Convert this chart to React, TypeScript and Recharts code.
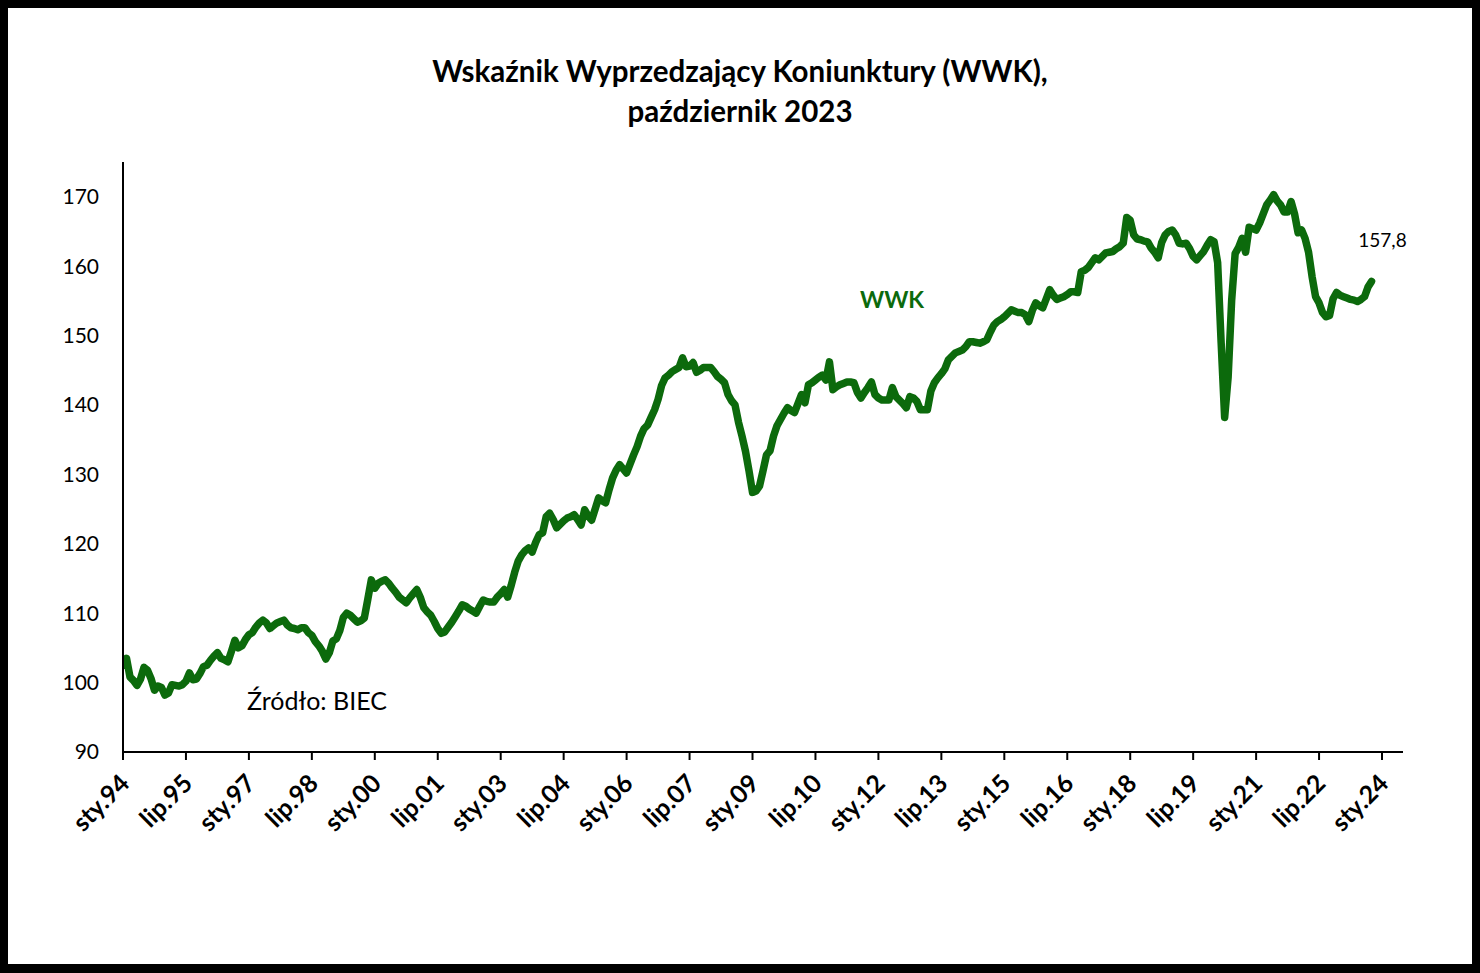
import React from 'react';
import { LineChart, Line, XAxis, YAxis } from 'recharts';

const y1994 = [102.5, 103.5, 100.8, 100.3, 99.6, 100.5, 102.2, 101.8, 100.6, 98.9, 99.5, 99.3];
const y1995 = [98.2, 98.5, 99.7, 99.6, 99.5, 99.7, 100.2, 101.4, 100.4, 100.5, 101.3, 102.3];
const y1996 = [102.5, 103.2, 103.8, 104.3, 103.5, 103.3, 103.0, 104.5, 106.1, 105.0, 105.3, 106.2];
const y1997 = [106.9, 107.2, 108.0, 108.6, 109.0, 108.6, 107.8, 108.2, 108.6, 108.8, 109.0, 108.3];
const y1998 = [107.9, 107.8, 107.6, 107.9, 107.9, 107.2, 106.8, 105.9, 105.3, 104.5, 103.4, 104.3];
const y1999 = [106.0, 106.3, 107.5, 109.4, 110.0, 109.7, 109.2, 108.7, 108.9, 109.3, 112.0, 114.8];
const y2000 = [113.6, 114.3, 114.6, 114.8, 114.3, 113.6, 113.0, 112.3, 111.9, 111.5, 112.2, 112.8];
const y2001 = [113.4, 112.3, 110.8, 110.2, 109.7, 108.8, 107.8, 107.1, 107.3, 108.0, 108.7, 109.5];
const y2002 = [110.3, 111.2, 111.0, 110.6, 110.3, 110.0, 111.0, 111.9, 111.7, 111.6, 111.6, 112.3];
const y2003 = [112.8, 113.4, 112.3, 114.0, 115.9, 117.5, 118.4, 119.0, 119.4, 118.8, 120.2, 121.3];
const y2004 = [121.6, 123.9, 124.4, 123.5, 122.3, 122.8, 123.3, 123.7, 123.9, 124.2, 123.5, 122.7];
const y2005 = [124.9, 124.0, 123.4, 125.0, 126.6, 126.2, 125.9, 127.8, 129.5, 130.6, 131.4, 130.8];
const y2006 = [130.2, 131.5, 132.8, 134.0, 135.5, 136.6, 137.1, 138.2, 139.3, 140.8, 142.8, 143.9];
const y2007 = [144.3, 144.8, 145.1, 145.4, 146.8, 145.5, 145.6, 146.1, 144.7, 145.0, 145.4, 145.4];
const y2008 = [145.4, 144.8, 144.1, 143.7, 143.2, 141.5, 140.6, 140.0, 137.5, 135.5, 133.3, 130.5];
const y2009 = [127.4, 127.6, 128.3, 130.5, 132.8, 133.4, 135.5, 137.0, 137.9, 138.8, 139.6, 139.2];
const y2010 = [138.9, 140.2, 141.5, 140.3, 142.9, 143.2, 143.6, 144.0, 144.3, 143.6, 146.2, 142.2];
const y2011 = [142.6, 142.9, 143.1, 143.3, 143.3, 143.2, 141.8, 141.0, 141.8, 142.5, 143.3, 141.5];
const y2012 = [141.0, 140.7, 140.7, 140.7, 142.5, 141.2, 140.7, 140.2, 139.6, 141.2, 141.0, 140.5];
const y2013 = [139.3, 139.3, 139.3, 142.0, 143.2, 143.9, 144.5, 145.2, 146.5, 147.0, 147.5, 147.7];
const y2014 = [147.9, 148.4, 149.1, 149.1, 149.0, 148.9, 149.1, 149.4, 150.5, 151.5, 152.0, 152.3];
const y2015 = [152.7, 153.2, 153.7, 153.5, 153.3, 153.3, 153.0, 152.0, 153.6, 154.7, 154.3, 154.0];
const y2016 = [155.3, 156.6, 155.8, 155.2, 155.4, 155.6, 155.9, 156.3, 156.3, 156.2, 159.2, 159.4];
const y2017 = [159.8, 160.5, 161.2, 160.9, 161.4, 161.9, 162.0, 162.1, 162.5, 162.8, 163.3, 167.0];
const y2018 = [166.6, 164.5, 163.9, 163.8, 163.6, 163.5, 162.6, 162.0, 161.2, 163.4, 164.5, 165.0];
const y2019 = [165.2, 164.5, 163.3, 163.2, 163.3, 162.5, 161.4, 160.9, 161.5, 162.1, 163.0, 163.8];
const y2020 = [163.5, 160.5, 149.0, 138.2, 144.0, 155.0, 161.8, 162.7, 164.0, 162.0, 165.6, 165.4];
const y2021 = [165.2, 166.2, 167.5, 168.8, 169.5, 170.3, 169.4, 168.8, 167.8, 167.8, 169.3, 167.5];
const y2022 = [164.8, 165.2, 164.0, 162.0, 158.5, 155.6, 154.7, 153.3, 152.7, 152.9, 155.3, 156.2];
const y2023 = [155.8, 155.6, 155.4, 155.2, 155.1, 154.9, 155.2, 155.6, 157.0, 157.8];

const wwkValues = [
  ...y1994, ...y1995, ...y1996, ...y1997, ...y1998, ...y1999, ...y2000, ...y2001,
  ...y2002, ...y2003, ...y2004, ...y2005, ...y2006, ...y2007, ...y2008, ...y2009,
  ...y2010, ...y2011, ...y2012, ...y2013, ...y2014, ...y2015, ...y2016, ...y2017,
  ...y2018, ...y2019, ...y2020, ...y2021, ...y2022, ...y2023,
];

const xTickMonths = [0, 18, 36, 54, 72, 90, 108, 126, 144, 162, 180, 198, 216, 234, 252, 270, 288, 306, 324, 342, 360];
const xTickLabels = [
  'sty.94', 'lip.95', 'sty.97', 'lip.98', 'sty.00', 'lip.01', 'sty.03', 'lip.04', 'sty.06', 'lip.07',
  'sty.09', 'lip.10', 'sty.12', 'lip.13', 'sty.15', 'lip.16', 'sty.18', 'lip.19', 'sty.21', 'lip.22', 'sty.24',
];
const yTicks = [90, 100, 110, 120, 130, 140, 150, 160, 170];

const data = wwkValues.map((v, i) => ({ m: i, wwk: v }));

const FONT = 'Lato, "Open Sans", sans-serif';
const GREEN = '#0c6a0c';

const XTick = (props: any) => {
  const { x, y, payload } = props;
  const idx = xTickMonths.indexOf(payload.value);
  const label = idx >= 0 ? xTickLabels[idx] : '';
  const px = x + 8;
  const py = y + 23;
  return (
    <text
      x={px}
      y={py}
      transform={`rotate(-45, ${px}, ${py})`}
      textAnchor="end"
      fontFamily={FONT}
      fontWeight="bold"
      fontSize={25}
      fill="#000"
    >
      {label}
    </text>
  );
};

const lastLabel = (props: any) => {
  const { x, y, index, value } = props;
  if (index !== wwkValues.length - 1) return null;
  return (
    <text x={x + 11} y={y - 34} textAnchor="middle" fontFamily={FONT} fontSize={19} fill="#000">
      {Number(value).toFixed(1).replace('.', ',')}
    </text>
  );
};

export default function App() {
  return (
    <div style={{ position: 'absolute', left: 0, top: 0, width: 1480, height: 973, background: '#000' }}>
      <div style={{ position: 'absolute', left: 8, top: 8, width: 1464, height: 956, background: '#fff' }} />
      <div style={{ position: 'absolute', left: 0, top: 0 }}>
        <LineChart
          width={1480}
          height={973}
          data={data}
          margin={{ top: 162, right: 77, bottom: 141, left: 63 }}
        >
          <XAxis
            dataKey="m"
            type="number"
            domain={[0, 366]}
            ticks={xTickMonths}
            interval={0}
            allowDataOverflow
            height={80}
            axisLine={{ stroke: '#000', strokeWidth: 2 }}
            tickLine={{ stroke: '#000', strokeWidth: 2 }}
            tickSize={8}
            tick={<XTick />}
          />
          <YAxis
            type="number"
            domain={[90, 175]}
            ticks={yTicks}
            interval={0}
            allowDataOverflow
            width={60}
            axisLine={{ stroke: '#000', strokeWidth: 2 }}
            tickLine={false}
            tickSize={6}
            tickMargin={18}
            tick={{ fontFamily: FONT, fontSize: 21, fill: '#000' }}
          />
          <Line
            type="linear"
            dataKey="wwk"
            stroke={GREEN}
            strokeWidth={7.5}
            dot={false}
            isAnimationActive={false}
            strokeLinejoin="round"
            strokeLinecap="round"
            label={lastLabel}
          />
        </LineChart>
      </div>
      <div
        style={{
          position: 'absolute', left: 0, top: 51, width: 1480, textAlign: 'center',
          fontFamily: FONT, fontWeight: 'bold', fontSize: 29.5, lineHeight: '40px', color: '#000',
        }}
      >
        <div>Wskaźnik Wyprzedzający Koniunktury (WWK),</div>
        <div>październik 2023</div>
      </div>
      <div
        style={{
          position: 'absolute', left: 860, top: 284, fontFamily: FONT, fontWeight: 'bold',
          fontSize: 23, color: GREEN, lineHeight: '30px',
        }}
      >
        WWK
      </div>
      <div
        style={{
          position: 'absolute', left: 247, top: 685, fontFamily: FONT,
          fontSize: 25, color: '#000', lineHeight: '30px',
        }}
      >
        Źródło: BIEC
      </div>
    </div>
  );
}
